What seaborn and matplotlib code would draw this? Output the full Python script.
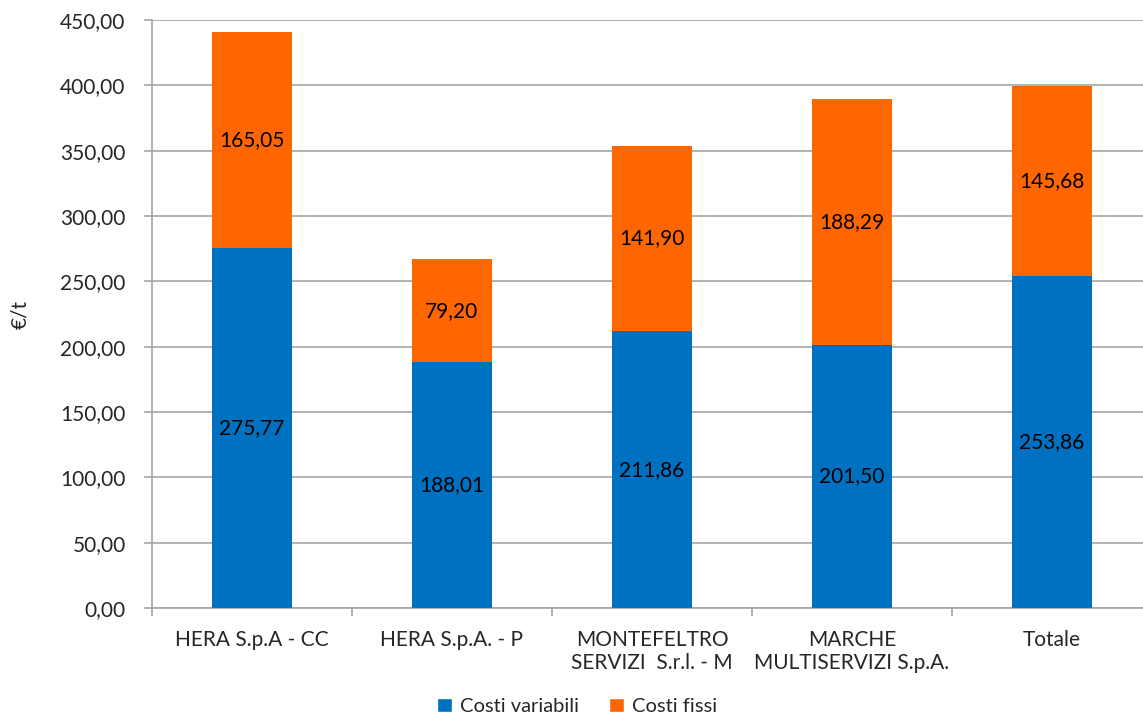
import matplotlib
matplotlib.use("Agg")
import matplotlib.pyplot as plt
import seaborn as sns
import numpy as np
import pandas as pd
from matplotlib.patches import Patch

categories = ["HERA S.p.A - CC", "HERA S.p.A. - P", "MONTEFELTRO\nSERVIZI  S.r.l. - M",
              "MARCHE\nMULTISERVIZI S.p.A.", "Totale"]
costi_variabili = [275.77, 188.01, 211.86, 201.50, 253.86]
costi_fissi = [165.05, 79.20, 141.90, 188.29, 145.68]
yticks = [0, 50, 100, 150, 200, 250, 300, 350, 400, 450]

BLUE = "#0070C0"
ORANGE = "#FF6600"
GRID = "#A6A6A6"

sns.set_theme(style="white")
plt.rcParams["font.family"] = ["Lato", "DejaVu Sans"]

df = pd.DataFrame({"cat": categories, "var": costi_variabili, "fix": costi_fissi})
df["tot"] = df["var"] + df["fix"]

fig = plt.figure(figsize=(11.43, 7.17), dpi=100)
ax = fig.add_axes([152 / 1143, 0.152, 1000 / 1143, 0.820])

sns.barplot(data=df, x="cat", y="tot", color=ORANGE, width=0.40, saturation=1, ax=ax, zorder=3, linewidth=0)
sns.barplot(data=df, x="cat", y="var", color=BLUE, width=0.40, saturation=1, ax=ax, zorder=3, linewidth=0)

for i, (v, f) in enumerate(zip(costi_variabili, costi_fissi)):
    ax.text(i, v / 2, f"{v:.2f}".replace(".", ","), ha="center", va="center", fontsize=15, color="black", zorder=4)
    ax.text(i, v + f / 2, f"{f:.2f}".replace(".", ","), ha="center", va="center", fontsize=15, color="black", zorder=4)

ax.set_ylim(0, 450)
ax.set_xlim(-0.5, len(categories) - 0.5)
ax.set_yticks(yticks)
ax.set_yticklabels([f"{t:.2f}".replace(".", ",") for t in yticks], fontsize=15)
ax.yaxis.grid(True, color=GRID, linewidth=1.2, zorder=0)
ax.set_axisbelow(True)

ax.set_xticks(np.arange(len(categories)))
ax.set_xticklabels(categories, fontsize=15)
ax.tick_params(axis="x", length=0, pad=16)
ax.set_xticks(np.arange(len(categories) + 1) - 0.5, minor=True)
ax.tick_params(axis="x", which="minor", length=6, color=GRID, width=1.2, direction="out")
ax.tick_params(axis="y", length=6, color=GRID, width=1.2, direction="out", pad=13)
ax.xaxis.set_tick_params(which="minor", bottom=True)
ax.yaxis.set_tick_params(left=True)

for s in ["top", "right"]:
    ax.spines[s].set_visible(False)
for s in ["left", "bottom"]:
    ax.spines[s].set_color(GRID)
    ax.spines[s].set_linewidth(1.2)

ax.set_xlabel("")
ax.set_ylabel("€/t", fontsize=15)
ax.yaxis.set_label_coords(-0.122, 0.5)

handles = [Patch(facecolor=BLUE, label="Costi variabili"), Patch(facecolor=ORANGE, label="Costi fissi")]
fig.legend(handles=handles, loc="center", bbox_to_anchor=(0.505, 0.015), ncol=2, frameon=False,
           fontsize=14.5, handlelength=0.75, handleheight=0.75, handletextpad=0.4, columnspacing=1.5)

fig.savefig("out.png", dpi=100)
